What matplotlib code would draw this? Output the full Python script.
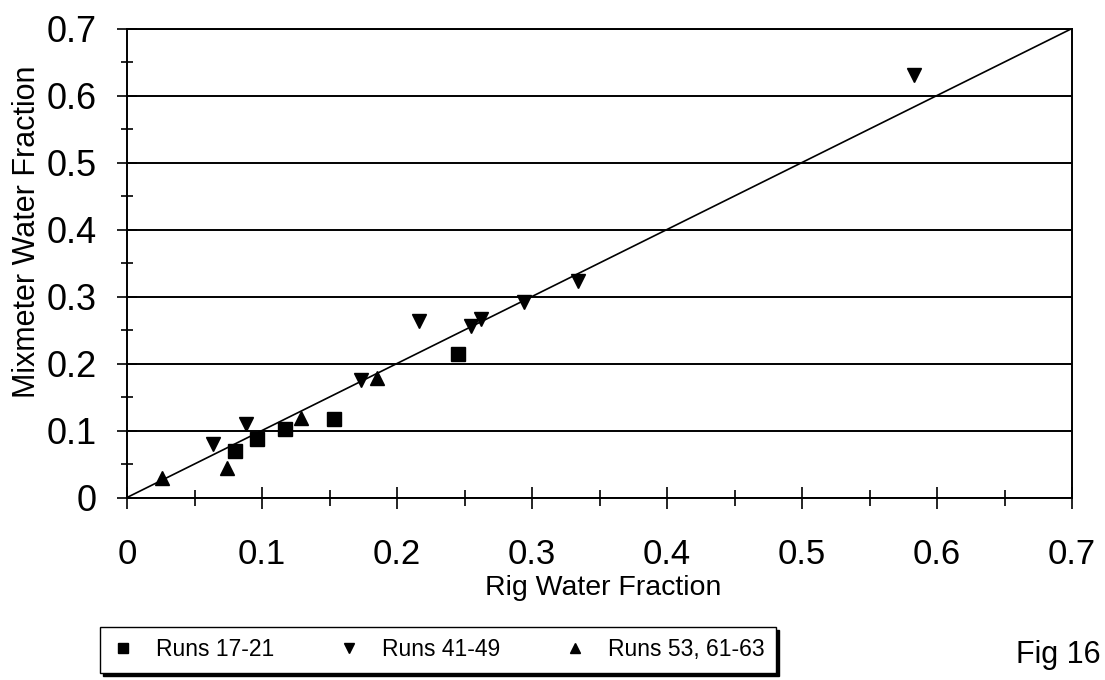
import numpy as np
import matplotlib.pyplot as plt
from matplotlib.ticker import MultipleLocator

# rig vs mixmeter water fraction, three groups of runs
sq_x = [0.080, 0.096, 0.117, 0.153, 0.245]
sq_y = [0.070, 0.088, 0.102, 0.117, 0.214]

dn_x = [0.064, 0.088, 0.173, 0.216, 0.255, 0.262, 0.294, 0.334, 0.583]
dn_y = [0.080, 0.110, 0.175, 0.263, 0.256, 0.266, 0.292, 0.323, 0.630]

up_x = [0.026, 0.074, 0.129, 0.185]
up_y = [0.029, 0.044, 0.118, 0.179]

labels = ["Runs 17-21", "Runs 41-49", "Runs 53, 61-63"]
parity = [0, 0.7]
ticks = [0, 0.1, 0.2, 0.3, 0.4, 0.5, 0.6, 0.7]

plt.rcParams["font.family"] = ["Liberation Sans", "DejaVu Sans"]

fig = plt.figure(figsize=(11.05, 6.8), dpi=100)
W, H = 1105, 680
ax = fig.add_axes([127 / W, 1 - 497.5 / H, (1072 - 127) / W, (497.5 - 28.5) / H])

ax.plot(parity, parity, color="black", lw=1.2, zorder=2)
h1, = ax.plot(sq_x, sq_y, "s", color="black", ms=10, ls="none", zorder=3)
h2, = ax.plot(dn_x, dn_y, "v", color="black", ms=10, ls="none", zorder=3)
h3, = ax.plot(up_x, up_y, "^", color="black", ms=10, ls="none", zorder=3)

ax.set_xlim(0, 0.7)
ax.set_ylim(0, 0.7)
ax.set_xticks(ticks)
ax.set_yticks(ticks)
ticklabels = ["0" if t == 0 else f"{t:.1f}" for t in ticks]
ax.set_xticklabels(ticklabels)
ax.set_yticklabels(ticklabels)
ax.xaxis.set_minor_locator(MultipleLocator(0.05))
ax.yaxis.set_minor_locator(MultipleLocator(0.05))

ax.tick_params(axis="x", which="major", direction="inout", length=16, width=1.2,
               pad=21, labelsize=25)
ax.tick_params(axis="x", which="minor", direction="inout", length=11, width=1.2)
ax.tick_params(axis="y", which="major", direction="inout", length=14, width=1.2,
               pad=15, labelsize=26)
ax.tick_params(axis="y", which="minor", direction="inout", length=8, width=1.2)

ax.yaxis.grid(True, color="black", lw=1.4)
ax.set_axisbelow(False)
for s in ax.spines.values():
    s.set_linewidth(1.4)

fig.text(603 / W, 1 - 588 / H, "Rig Water Fraction", fontsize=20.5,
         ha="center", va="center")
fig.text(27 / W, 1 - 232 / H, "Mixmeter Water Fraction", fontsize=22,
         ha="center", va="center", rotation=90)

leg = fig.legend([h1, h2, h3], labels, ncol=3, loc="upper left",
                 bbox_to_anchor=(100 / W, 1 - 627 / H), borderaxespad=0,
                 fontsize=16.5, markerscale=0.7, handlelength=1.0,
                 handletextpad=0.94, columnspacing=2.77, borderpad=0.5,
                 fancybox=False, framealpha=1, edgecolor="black",
                 shadow={"facecolor": "black", "edgecolor": "black", "alpha": 1})
leg.get_frame().set_linewidth(1.0)

fig.text(1016 / W, 1 - 655 / H, "Fig 16", fontsize=22, ha="left", va="center")

fig.savefig("out.png", dpi=100)
